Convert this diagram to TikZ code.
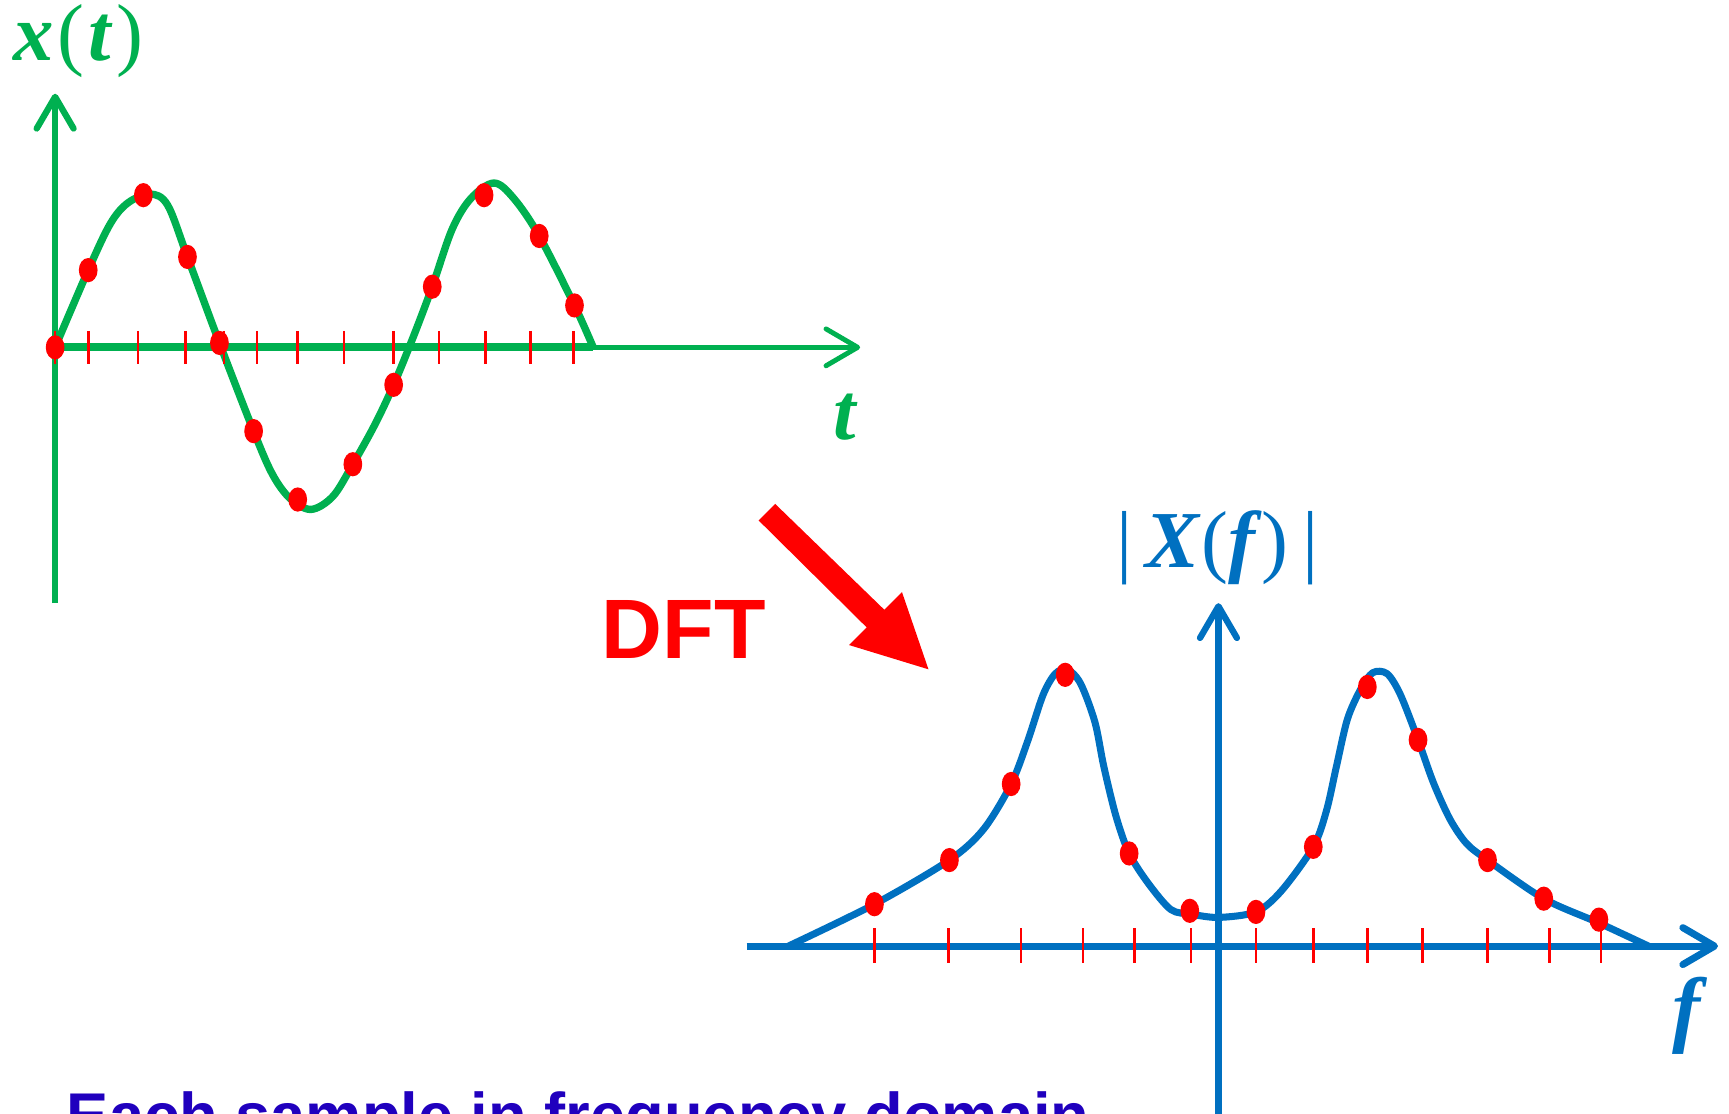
\documentclass[tikz,border=0pt]{standalone}
\usepackage{fontspec}
\usepackage{tikz}
\usetikzlibrary{arrows.meta}
\newfontfamily\labelserif{Liberation Serif}
\newfontfamily\labelsans{Liberation Sans}
\definecolor{sigGreen}{RGB}{0,176,80}
\definecolor{specBlue}{RGB}{0,112,192}
\definecolor{noteBlue}{RGB}{32,0,190}

\begin{document}
\begin{tikzpicture}[x=0.011027cm, y=-0.011027cm,
  axisline/.style={line width=1.8pt, -{Straight Barb[round,length=9pt,width=10.5pt]}},
  smptick/.style={red, line width=0.75pt},
  smpdot/.style={red}]
  \useasboundingbox (0,0) rectangle (1568,1010);
  \clip (0,0) rectangle (1568,1010);

  % time domain
  \coordinate (t0) at (50,315);
  \coordinate (tend) at (538,315);
  \coordinate (ttip) at (780,315);
  \coordinate (xbot) at (50,547);
  \coordinate (xtip) at (50,85);
  \draw[sigGreen, axisline] (xbot) -- (xtip);
  \draw[sigGreen, axisline, line width=1.4pt] (t0) -- (ttip);
  \draw[sigGreen, line width=2.2pt] (t0) -- (tend);
  \draw[sigGreen, line width=2.1pt, line join=round] plot[smooth, tension=0.55] coordinates {
    (50,315) (80,245) (100,203) (116,184) (136,176) (152,186) (170,233)
    (199,311) (230,391) (247,430) (263,452) (282,462) (302,450) (320,421)
    (340,385) (357,349) (375,305) (392,260) (410,208) (427,180) (448,166)
    (466,180) (489,214) (521,277) (538,315)};
  \foreach \tx in {50,80,125,168,203,233,270,312,357,398,440,481,520}
    \draw[smptick] (\tx,300) -- (\tx,330);
  \foreach \tx/\ty in {50/315,80/245,130/177,170/233,199/311,230/391,270/453,
                       320/421,357/349,392/260,439/177,489/214,521/277}
    \fill[smpdot] (\tx,\ty) ellipse [x radius=8.5, y radius=11];

  \node[sigGreen, anchor=base west, inner sep=0pt] (xlabel) at (12,55)
    {\labelserif\fontsize{23}{23}\selectfont\textbf{\textit{x}}\kern1pt(\kern1pt\textbf{\textit{t}}\kern1pt)};
  \node[sigGreen, anchor=base, inner sep=0pt] (tlabel) at (767,399)
    {\labelserif\fontsize{23}{23}\selectfont\textbf{\textit{t}}};

  % transform arrow
  \fill[red] (688,472) -- (703,457) -- (802,553) -- (818,537) -- (842,607)
    -- (770,585) -- (786,569) -- cycle;
  \node[red, anchor=base west, inner sep=0pt] (dft) at (545,597)
    {\labelsans\bfseries\fontsize{24}{24}\selectfont DFT};

  % frequency domain
  \coordinate (f0) at (677,858);
  \coordinate (ftip) at (1558,858);
  \coordinate (Xbot) at (1105,1012);
  \coordinate (Xtip) at (1105,547);
  \draw[specBlue, axisline, line width=2pt] (f0) -- (ftip);
  \draw[specBlue, axisline] (Xbot) -- (Xtip);
  \draw[specBlue, line width=2pt, line join=round] plot[smooth, tension=0.5] coordinates {
    (715,858) (793,820) (861,780) (892,752) (917,711) (932,672) (946,630)
    (957,611) (968,607) (980,620) (993,655) (1001,695) (1012,740) (1024,774)
    (1042,802) (1062,825) (1080,829) (1105,832) (1139,827) (1162,808)
    (1191,768) (1203,735) (1212,695) (1222,652) (1234,625) (1245,610)
    (1258,611) (1270,630) (1286,671) (1300,710) (1315,743) (1330,765)
    (1349,780) (1400,815) (1450,837) (1495,858)};
  \foreach \fx in {793,860,926,982,1029,1080,1139,1191,1240,1290,1349,1405,1452}
    \draw[smptick] (\fx,842) -- (\fx,873);
  \foreach \fx/\fy in {793/820,861/780,917/711,966/612,1024/774,1079/826,1139/827,
                       1191/768,1240/623,1286/671,1349/780,1400/815,1450/834}
    \fill[smpdot] (\fx,\fy) ellipse [x radius=8.5, y radius=11];

  \node[specBlue, anchor=base, inner sep=0pt] (Xlabel) at (1104,515)
    {\labelserif\fontsize{23}{23}\selectfont|\,\textbf{\textit{X}}(\textbf{\textit{f}})\,|};
  \node[specBlue, anchor=base, inner sep=0pt] (flabel) at (1533,940)
    {\labelserif\fontsize{24}{24}\selectfont\textbf{\textit{f}}};

  % caption, cut by the frame
  \node[noteBlue, anchor=base west, inner sep=0pt] (note) at (60,1032)
    {\labelsans\bfseries\fontsize{18}{18}\selectfont Each sample in frequency domain};
\end{tikzpicture}
\end{document}
